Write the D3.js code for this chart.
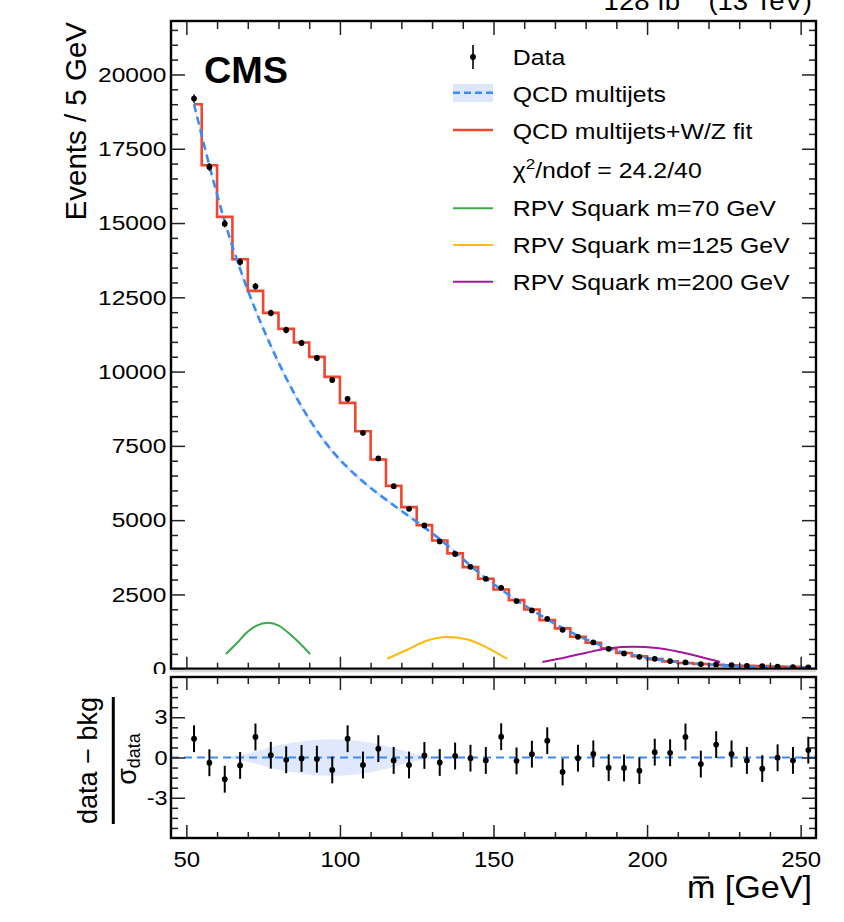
<!DOCTYPE html>
<html><head><meta charset="utf-8">
<script src="https://cdn.jsdelivr.net/npm/d3@7"></script>
<style>
body{margin:0;background:#fff}
svg{display:block}
text{font-family:"Liberation Sans",Arial,Helvetica,sans-serif;fill:#000}
</style>
</head><body>
<svg id="c" width="844" height="922"></svg>
<script>
// ---------------- data ----------------
const binCenters = [52.5,57.5,62.5,67.5,72.5,77.5,82.5,87.5,92.5,97.5,102.5,107.5,112.5,117.5,122.5,127.5,132.5,137.5,142.5,147.5,152.5,157.5,162.5,167.5,172.5,177.5,182.5,187.5,192.5,197.5,202.5,207.5,212.5,217.5,222.5,227.5,232.5,237.5,242.5,247.5,252.5];
const dataCounts = [19190,16890,14980,13690,12870,11975,11400,10965,10460,9720,9082,7938,7076,6144,5380,4821,4283,3860,3429,3025,2722,2275,1962,1679,1309,1073,885,670,515,400,333,256,212,155,145,121,98,84,70,55,45];
const dataErr = [139,130,122,117,113,109,107,105,102,99,95,89,84,78,73,69,65,62,59,55,52,48,44,41,36,33,30,26,23,20,18,16,15,12,12,11,10,9,8,7,7];
const fitValues = [19000,16945,15206,13782,12716,11975,11437,10979,10495,9822,8947,7994,7042,6154,5437,4832,4317,3880,3418,3025,2668,2308,1995,1635,1356,1073,871,690,530,420,322,245,190,160,130,115,100,90,72,62,50];
const qcdValues = [19000,16900,15000,13420,12050,10850,9760,8800,8000,7300,6760,6290,5880,5500,5130,4760,4370,3930,3460,3040,2665,2300,1980,1660,1370,1100,880,690,530,410,320,250,195,155,125,100,82,68,56,47,40];
const qcdUnc = [120,110,100,95,90,85,80,76,72,68,64,60,56,52,48,45,42,39,36,33,30,27,24,21,18,16,14,12,10,9,8,7,6,5,5,4,4,3,3,3,3];
const pullValues = [1.40,-0.39,-1.62,-0.59,1.53,0.17,-0.17,-0.07,-0.12,-0.93,1.40,-0.56,0.66,-0.22,-0.56,0.15,-0.37,0.11,-0.05,-0.22,1.55,-0.25,0.25,1.25,-1.08,-0.05,0.27,-0.76,-0.78,-0.98,0.40,0.35,1.53,-0.49,0.96,0.27,-0.22,-0.83,-0.02,-0.22,0.55];
const pullErr = 1.0;
const pullBandX = [62.5,67.5,72.5,77.5,82.5,87.5,92.5,97.5,102.5,107.5,112.5,117.5,122.5,127.5,132.5];
const pullBandW = [0.02,0.18,0.45,0.78,1.02,1.2,1.32,1.36,1.32,1.2,0.98,0.7,0.4,0.15,0.02];
const sig70X = [62.9,66.4,69.6,72.9,76.5,80.1,83.2,86.5,90.3];
const sig70Y = [495,855,1211,1450,1545,1450,1211,898,495];
const sig125X = [115.4,121.7,128.2,134.7,141.2,147.7,154.5];
const sig125Y = [336,629,942,1070,989,720,326];
const sig200X = [165.9,173.7,180.2,187.8,195.5,203.1,210.7,217.2,223.8];
const sig200Y = [225,384,538,686,735,697,562,404,225];
const yMajorTicks = [0,2500,5000,7500,10000,12500,15000,17500,20000];
const xMajorTicks = [50,100,150,200,250];
const pullMajorTicks = [-3,0,3];
const pullTickLabels = ["-3","0","3"];
const legendLabels = ["Data","QCD multijets","QCD multijets+W/Z fit","χ2/ndof = 24.2/40","RPV Squark m=70 GeV","RPV Squark m=125 GeV","RPV Squark m=200 GeV"];

// ---------------- layout ----------------
const L=171, R=816, T=21, B=668.7, LT=677, LB=838;
const C = {red:"#ef4631", blue:"#3d8bf2", band:"#dce8fa", green:"#3aaa4a", orange:"#fdb813", purple:"#a2189c"};
const svg = d3.select("#c");
const x = d3.scaleLinear().domain([45,255]).range([L,R]);
const y = d3.scaleLinear().domain([0,21800]).range([B,T]);
const yr = d3.scaleLinear().domain([-6,6]).range([LB,LT]);

function label(g,o){
  const t = g.append("text")
    .attr("transform",`translate(${o.x},${o.y}) rotate(${o.rot||0}) scale(${o.sx||1},1)`)
    .attr("font-size",o.size).attr("text-anchor",o.anchor||"start")
    .attr("font-weight",o.weight||"normal");
  if(o.text!==undefined) t.text(o.text);
  return t;
}
function styleAxis(g,sx,size){
  g.select(".domain").remove();
  g.selectAll(".tick line").attr("stroke","#222").attr("stroke-width",1.5);
  g.selectAll("text").attr("font-size",size).attr("fill","#000")
    .attr("font-family","'Liberation Sans',Arial,sans-serif")
    .attr("transform",`scale(${sx},1)`);
}
const yMinor = d3.range(0,21800,500).filter(v=>v%2500!==0);
const xMinor = d3.range(50,256,10).filter(v=>v%50!==0);
const pMinor = d3.range(-5.25,5.26,0.75).filter(v=>Math.abs(v%3)>1e-6);

// ---------------- main panel ----------------
svg.append("defs").append("clipPath").attr("id","mclip")
  .append("rect").attr("x",L).attr("y",T).attr("width",R-L).attr("height",B-T);
const main = svg.append("g");
const plot = main.append("g").attr("clip-path","url(#mclip)");

const rows = binCenters.map((m,i)=>({m,d:dataCounts[i],e:dataErr[i],f:fitValues[i],q:qcdValues[i],u:qcdUnc[i],p:pullValues[i]}));

plot.append("path").datum(rows)
  .attr("d",d3.area().x(d=>x(d.m)).y0(d=>y(d.q-d.u)).y1(d=>y(d.q+d.u)).curve(d3.curveMonotoneX))
  .attr("fill",C.band);
plot.append("path").datum(rows)
  .attr("d",d3.line().x(d=>x(d.m)).y(d=>y(d.f)).curve(d3.curveStep))
  .attr("fill","none").attr("stroke",C.red).attr("stroke-width",2.6);
plot.append("path").datum(rows)
  .attr("d",d3.line().x(d=>x(d.m)).y(d=>y(d.q)).curve(d3.curveBasis))
  .attr("fill","none").attr("stroke",C.blue).attr("stroke-width",2.6).attr("stroke-dasharray","8,5");

[[sig70X,sig70Y,C.green],[sig125X,sig125Y,C.orange],[sig200X,sig200Y,C.purple]].forEach(([xs,ys,col])=>{
  plot.append("path").datum(xs.map((v,i)=>[v,ys[i]]))
    .attr("d",d3.line().x(d=>x(d[0])).y(d=>y(d[1])).curve(d3.curveMonotoneX))
    .attr("fill","none").attr("stroke",col).attr("stroke-width",2);
});

const pts = plot.append("g");
pts.selectAll("line").data(rows).join("line")
  .attr("x1",d=>x(d.m)).attr("x2",d=>x(d.m))
  .attr("y1",d=>y(d.d-d.e)).attr("y2",d=>y(d.d+d.e))
  .attr("stroke","#000").attr("stroke-width",1.6);
pts.selectAll("circle").data(rows).join("circle")
  .attr("cx",d=>x(d.m)).attr("cy",d=>y(d.d)).attr("r",2.9).attr("fill","#000");

// main axes
let g;
g = main.append("g").attr("transform",`translate(${L},0)`)
  .call(d3.axisLeft(y).tickValues(yMajorTicks).tickSize(-14).tickPadding(4).tickFormat(d3.format("d")));
styleAxis(g,1.17,21);
g = main.append("g").attr("transform",`translate(${L},0)`)
  .call(d3.axisLeft(y).tickValues(yMinor).tickSize(-7).tickFormat(""));
styleAxis(g,1,21);
g = main.append("g").attr("transform",`translate(${R},0)`)
  .call(d3.axisRight(y).tickValues(yMajorTicks).tickSize(-14).tickFormat(""));
styleAxis(g,1,21);
g = main.append("g").attr("transform",`translate(${R},0)`)
  .call(d3.axisRight(y).tickValues(yMinor).tickSize(-7).tickFormat(""));
styleAxis(g,1,21);
g = main.append("g").attr("transform",`translate(0,${B})`)
  .call(d3.axisBottom(x).tickValues(xMajorTicks).tickSize(-12).tickFormat(""));
styleAxis(g,1,21);
g = main.append("g").attr("transform",`translate(0,${B})`)
  .call(d3.axisBottom(x).tickValues(xMinor).tickSize(-6).tickFormat(""));
styleAxis(g,1,21);
g = main.append("g").attr("transform",`translate(0,${T})`)
  .call(d3.axisTop(x).tickValues(xMajorTicks).tickSize(-14).tickFormat(""));
styleAxis(g,1,21);
g = main.append("g").attr("transform",`translate(0,${T})`)
  .call(d3.axisTop(x).tickValues(xMinor).tickSize(-8).tickFormat(""));
styleAxis(g,1,21);
main.append("rect").attr("x",L).attr("y",T).attr("width",R-L).attr("height",B-T)
  .attr("fill","none").attr("stroke","#000").attr("stroke-width",2.4);

// texts main
label(main,{x:204,y:82.5,text:"CMS",size:36,weight:"bold",sx:1.05});
const lumi = label(main,{x:812,y:10,size:26,anchor:"end",sx:1.06});
lumi.append("tspan").text("128 fb");
lumi.append("tspan").attr("font-size",17).attr("dy",-10).text("−1");
lumi.append("tspan").attr("dy",10).text(" (13 TeV)");
label(main,{x:85.5,y:22,text:"Events / 5 GeV",size:29.5,anchor:"end",rot:-90});

// legend
const lg = main.append("g");
const lx0=453, lx1=493, ltx=512.7;
const rowY = [65,101.7,139,178,216,253,290];
lg.append("line").attr("x1",473).attr("x2",473).attr("y1",45).attr("y2",69).attr("stroke","#000").attr("stroke-width",1.6);
lg.append("circle").attr("cx",473).attr("cy",57).attr("r",2.9).attr("fill","#000");
lg.append("rect").attr("x",lx0).attr("y",84).attr("width",lx1-lx0).attr("height",18).attr("fill",C.band);
lg.append("line").attr("x1",lx0).attr("x2",lx1).attr("y1",92.7).attr("y2",92.7).attr("stroke",C.blue).attr("stroke-width",2.4).attr("stroke-dasharray","7,4");
[[130,C.red,2.6],[208.3,C.green,2],[245,C.orange,2],[281.7,C.purple,2]].forEach(([yy,col,w])=>{
  lg.append("line").attr("x1",lx0).attr("x2",lx1).attr("y1",yy).attr("y2",yy).attr("stroke",col).attr("stroke-width",w);
});
legendLabels.forEach((t,i)=>{
  if(i===3){
    const tt = label(lg,{x:ltx,y:rowY[i],size:22,sx:1.13});
    tt.append("tspan").text("χ");
    tt.append("tspan").attr("font-size",15).attr("dy",-9).text("2");
    tt.append("tspan").attr("dy",9).text("/ndof = 24.2/40");
  } else {
    label(lg,{x:ltx,y:rowY[i],text:t,size:22,sx:1.13});
  }
});

// ---------------- lower panel ----------------
const low = svg.append("g");
low.append("rect").attr("x",0).attr("y",674).attr("width",844).attr("height",248).attr("fill","#fff");
low.append("line").attr("x1",L).attr("x2",R).attr("y1",671).attr("y2",671).attr("stroke","#dadada").attr("stroke-width",2.5);
svg.append("defs").append("clipPath").attr("id","lclip")
  .append("rect").attr("x",L).attr("y",LT).attr("width",R-L).attr("height",LB-LT);
const lp = low.append("g").attr("clip-path","url(#lclip)");
lp.append("path").datum(pullBandX.map((m,i)=>[m,pullBandW[i]]))
  .attr("d",d3.area().x(d=>x(d[0])).y0(d=>yr(-d[1])).y1(d=>yr(d[1])).curve(d3.curveMonotoneX))
  .attr("fill","#dfe9fb");
lp.append("line").attr("x1",L).attr("x2",R).attr("y1",yr(0)).attr("y2",yr(0))
  .attr("stroke",C.blue).attr("stroke-width",2).attr("stroke-dasharray","8,5");
lp.selectAll("line.err").data(rows).join("line").attr("class","err")
  .attr("x1",d=>x(d.m)).attr("x2",d=>x(d.m))
  .attr("y1",d=>yr(d.p-pullErr)).attr("y2",d=>yr(d.p+pullErr))
  .attr("stroke","#000").attr("stroke-width",2);
lp.selectAll("circle").data(rows).join("circle")
  .attr("cx",d=>x(d.m)).attr("cy",d=>yr(d.p)).attr("r",2.9).attr("fill","#000");

g = low.append("g").attr("transform",`translate(${L},0)`)
  .call(d3.axisLeft(yr).tickValues(pullMajorTicks).tickSize(-14).tickPadding(3).tickFormat((d,i)=>pullTickLabels[i]));
styleAxis(g,1.12,21);
g = low.append("g").attr("transform",`translate(${L},0)`)
  .call(d3.axisLeft(yr).tickValues(pMinor).tickSize(-7).tickFormat(""));
styleAxis(g,1,21);
g = low.append("g").attr("transform",`translate(${R},0)`)
  .call(d3.axisRight(yr).tickValues(pullMajorTicks).tickSize(-14).tickFormat(""));
styleAxis(g,1,21);
g = low.append("g").attr("transform",`translate(${R},0)`)
  .call(d3.axisRight(yr).tickValues(pMinor).tickSize(-7).tickFormat(""));
styleAxis(g,1,21);
g = low.append("g").attr("transform",`translate(0,${LB})`)
  .call(d3.axisBottom(x).tickValues(xMajorTicks).tickSize(-13).tickPadding(13.5).tickFormat(d3.format("d")));
styleAxis(g,1.09,22);
g = low.append("g").attr("transform",`translate(0,${LB})`)
  .call(d3.axisBottom(x).tickValues(xMinor).tickSize(-6).tickFormat(""));
styleAxis(g,1,21);
g = low.append("g").attr("transform",`translate(0,${LT})`)
  .call(d3.axisTop(x).tickValues(xMajorTicks).tickSize(-13).tickFormat(""));
styleAxis(g,1,21);
g = low.append("g").attr("transform",`translate(0,${LT})`)
  .call(d3.axisTop(x).tickValues(xMinor).tickSize(-7).tickFormat(""));
styleAxis(g,1,21);
low.append("rect").attr("x",L).attr("y",LT).attr("width",R-L).attr("height",LB-LT)
  .attr("fill","none").attr("stroke","#000").attr("stroke-width",2.4);

// lower y label (fraction)
label(low,{x:96.5,y:760.5,text:"data − bkg",size:27,anchor:"middle",rot:-90});
low.append("line").attr("x1",113.3).attr("x2",113.3).attr("y1",697).attr("y2",824).attr("stroke","#000").attr("stroke-width",3);
const den = label(low,{x:136,y:759,size:27,anchor:"middle",rot:-90});
den.append("tspan").text("σ");
den.append("tspan").attr("font-size",18).attr("dy",4).text("data");

// x label with bar over m
const xsx = 1.1;
const xl = label(low,{x:812,y:898,text:"m [GeV]",size:31,anchor:"end",sx:xsx});
const ext = xl.node().getExtentOfChar(0);
const mx0 = 812 + xsx*(ext.x+ext.width*0.22), mx1 = 812 + xsx*(ext.x+ext.width*0.78);
low.append("line").attr("x1",mx0).attr("x2",mx1).attr("y1",877.5).attr("y2",877.5).attr("stroke","#000").attr("stroke-width",2.2);
</script>
</body></html>
